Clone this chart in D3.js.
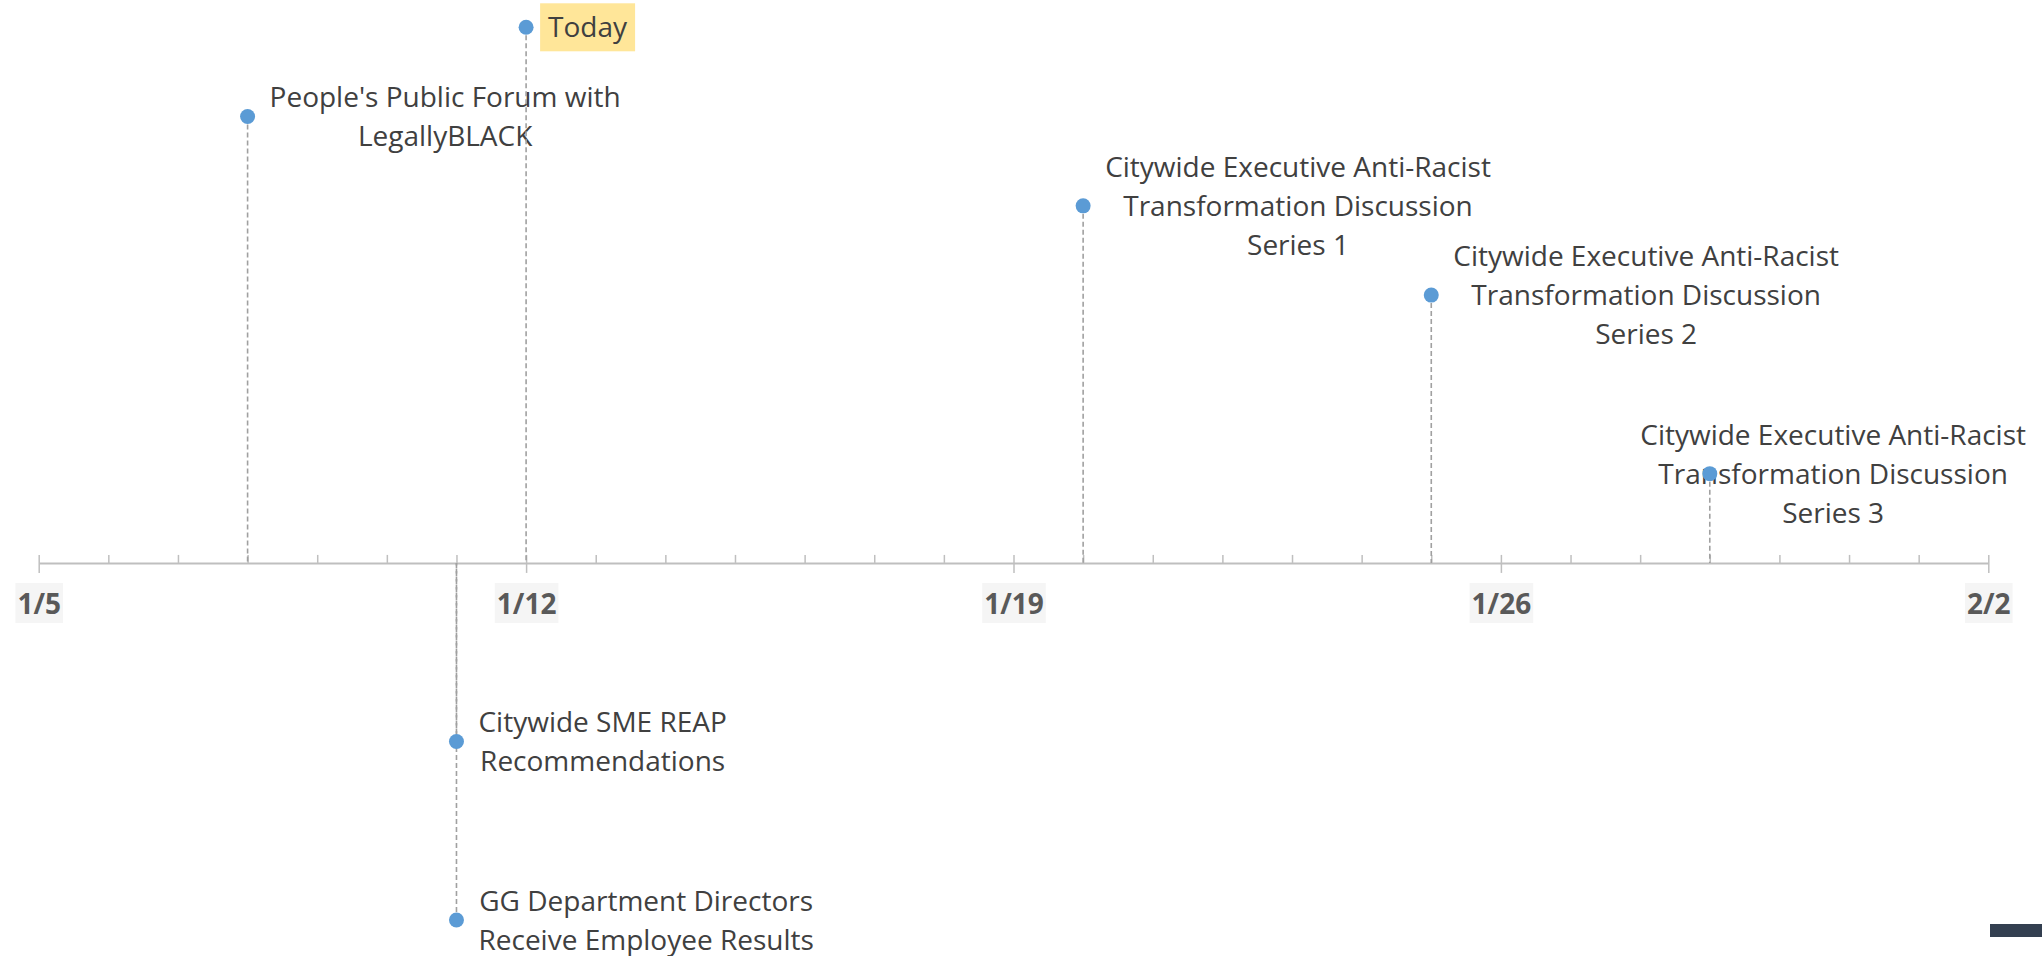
<!DOCTYPE html>
<html>
<head>
<meta charset="utf-8">
<script src="https://cdn.jsdelivr.net/npm/d3@7"></script>
<style>
    body { margin: 0; background: #ffffff; }
    svg { display: block; }
</style>
</head>
<body>
<svg id="timeline" width="2042" height="956"></svg>
<script>
// events on the timeline: date, height above/below the axis, label lines
const EVENT_DATES = ['1/8/2021', '1/12/2021', '1/20/2021', '1/25/2021', '1/29/2021', '1/11/2021', '1/11/2021'];
const EVENT_HEIGHTS = [5, 6, 4, 3, 1, -2, -4];
const EVENT_LABELS = [
    ["People's Public Forum with", 'LegallyBLACK'],
    ['Today'],
    ['Citywide Executive Anti-Racist', 'Transformation Discussion', 'Series 1'],
    ['Citywide Executive Anti-Racist', 'Transformation Discussion', 'Series 2'],
    ['Citywide Executive Anti-Racist', 'Transformation Discussion', 'Series 3'],
    ['Citywide SME REAP', 'Recommendations'],
    ['GG Department Directors', 'Receive Employee Results'],
];

// axis range and the labelled (weekly) ticks
const AXIS_START = '1/5/2021';
const AXIS_END = '2/2/2021';
const TICK_LABELS = ['1/5/2021', '1/12/2021', '1/19/2021', '1/26/2021', '2/2/2021'];

const SVG_W = 2042;
const SVG_H = 956;
const FONT = "'Open Sans', 'Noto Sans', sans-serif";
const LINE_GAP = 39;
const LABEL_RIGHT = 2026;

const parseDate = d3.timeParse('%m/%d/%Y');
const SVG = d3.select('#timeline');

// scales
const X_SCALE = d3.scaleTime()
    .domain([parseDate(AXIS_START), parseDate(AXIS_END)])
    .range([38.7, 1988.3]);

const Y_SCALE = d3.scaleLinear()
    .domain([-4, 6])
    .range([920, 27.3]);

const AXIS_Y = Y_SCALE(0);

const events = EVENT_DATES.map((d, i) => ({
    date: parseDate(d),
    value: EVENT_HEIGHTS[i],
    lines: EVENT_LABELS[i],
}));

// minor ticks every day, pointing up
const DAYS = d3.timeDay.range(parseDate(AXIS_START), d3.timeDay.offset(parseDate(AXIS_END), 1));
const MINOR_G = SVG.append('g')
    .attr('id', 'minorAxis')
    .attr('transform', `translate(0, ${AXIS_Y})`);
MINOR_G.call(d3.axisTop(X_SCALE).tickValues(DAYS).tickSize(8).tickSizeOuter(0).tickFormat(''));
MINOR_G.select('.domain').attr('stroke', '#bfbfbf').attr('stroke-width', 2);
MINOR_G.selectAll('.tick line').attr('stroke', '#bfbfbf').attr('stroke-width', 1.5);

// weekly ticks crossing below with date labels
const MAJOR_G = SVG.append('g')
    .attr('id', 'majorAxis')
    .attr('transform', `translate(0, ${AXIS_Y})`);
MAJOR_G.call(d3.axisBottom(X_SCALE)
    .tickValues(TICK_LABELS.map(parseDate))
    .tickSize(10)
    .tickSizeOuter(0)
    .tickFormat(d3.timeFormat('%-m/%-d')));
MAJOR_G.select('.domain').remove();
MAJOR_G.selectAll('.tick line').attr('stroke', '#bfbfbf').attr('stroke-width', 1.5);
MAJOR_G.selectAll('.tick text')
    .attr('y', 51)
    .attr('dy', 0)
    .style('font-family', FONT)
    .style('font-size', '28px')
    .style('font-weight', 'bold')
    .attr('fill', '#595959');

MAJOR_G.selectAll('.tick').each(function () {
    const tick = d3.select(this);
    const box = tick.select('text').node().getBBox();
    tick.insert('rect', 'text')
        .attr('x', box.x - 2)
        .attr('y', 20)
        .attr('width', box.width + 4)
        .attr('height', 40)
        .attr('fill', '#f5f5f5');
});

// labels
const LABEL_G = SVG.append('g').attr('id', 'labels');
events.forEach(ev => {
    const cx = X_SCALE(ev.date);
    const cy = Y_SCALE(ev.value);
    const g = LABEL_G.append('g');
    const n = ev.lines.length;

    const text = g.append('text')
        .attr('text-anchor', 'middle')
        .style('font-family', FONT)
        .style('font-size', '28px')
        .attr('fill', '#404040');

    ev.lines.forEach((line, i) => {
        text.append('tspan')
            .attr('y', cy + (i - (n - 1) / 2) * LINE_GAP + 10)
            .text(line);
    });

    let width = 0;
    text.selectAll('tspan').each(function () {
        width = Math.max(width, this.getComputedTextLength());
    });

    let left = cx + 22;
    if (left + width > LABEL_RIGHT) left = LABEL_RIGHT - width;
    text.selectAll('tspan').attr('x', left + width / 2);

    if (ev.lines[0] === 'Today') {
        g.insert('rect', 'text')
            .attr('x', left - 8)
            .attr('y', cy - 24)
            .attr('width', width + 16)
            .attr('height', 48)
            .attr('fill', '#ffe699');
    }
});

// drop lines from each point to the axis
SVG.append('g')
    .attr('id', 'dropLines')
    .selectAll('line')
    .data(events)
    .join('line')
    .attr('x1', d => X_SCALE(d.date))
    .attr('x2', d => X_SCALE(d.date))
    .attr('y1', d => Y_SCALE(d.value))
    .attr('y2', AXIS_Y)
    .attr('stroke', '#a0a0a0')
    .attr('stroke-width', 1.6)
    .attr('stroke-dasharray', '5,3');

// points
SVG.append('g')
    .attr('id', 'points')
    .selectAll('circle')
    .data(events)
    .join('circle')
    .attr('cx', d => X_SCALE(d.date))
    .attr('cy', d => Y_SCALE(d.value))
    .attr('r', 7.5)
    .attr('fill', '#5b9bd5');

// slide footer bar in the corner
SVG.append('rect')
    .attr('x', 1990)
    .attr('y', 924)
    .attr('width', 52)
    .attr('height', 13)
    .attr('fill', '#333f50');
</script>
</body>
</html>
